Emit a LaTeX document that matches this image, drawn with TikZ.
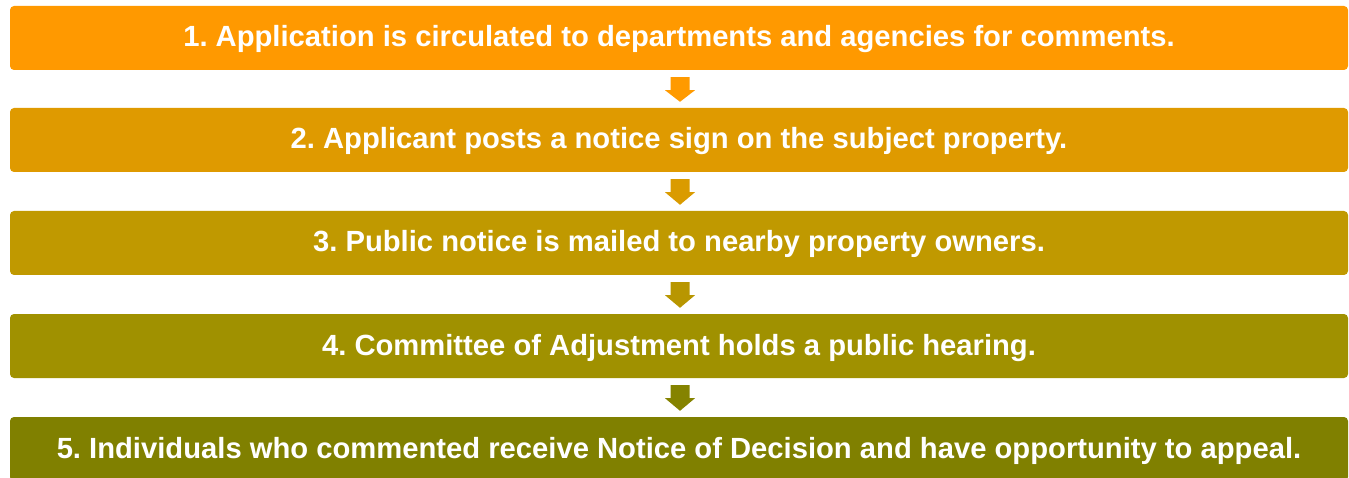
\documentclass[tikz,border=0pt]{standalone}
\usepackage{fontspec}
\setmainfont{Liberation Sans}
\usetikzlibrary{calc}
\frenchspacing
\definecolor{c1}{HTML}{FF9900}
\definecolor{c2}{HTML}{DF9A00}
\definecolor{c3}{HTML}{C09900}
\definecolor{c4}{HTML}{A09100}
\definecolor{c5}{HTML}{808000}
\definecolor{a1}{HTML}{FF9A00}
\definecolor{a2}{HTML}{DA9B00}
\definecolor{a3}{HTML}{B89600}
\definecolor{a4}{HTML}{858300}
\begin{document}
\begin{tikzpicture}[x=1pt,y=-1pt,
  stepbox/.style={rounded corners=4pt, minimum width=1338pt, minimum height=64pt,
    inner sep=0pt, text=white, text height=21pt, text depth=3pt,
    font=\fontsize{29.2}{34}\selectfont\bfseries},
  ]
\useasboundingbox (0,0) rectangle (1349,478);
\clip (0,0) rectangle (1349,478);
\node[stepbox, fill=c1] (b1) at (679,38) {1. Application is circulated to departments and agencies for comments.};
\node[stepbox, fill=c2] (b2) at (679,140) {2. Applicant posts a notice sign on the subject property.};
\node[stepbox, fill=c3] (b3) at (679,243) {3. Public notice is mailed to nearby property owners.};
\node[stepbox, fill=c4] (b4) at (679,346) {4. Committee of Adjustment holds a public hearing.};
\node[stepbox, fill=c5] (b5) at (679,449) {5. Individuals who commented receive Notice of Decision and have opportunity to appeal.};
\foreach \u/\l/\c in {b1/b2/a1, b2/b3/a2, b3/b4/a3, b4/b5/a4}{
  \fill[\c] ($(\u.south)+(-8.5,7)$) -- ($(\u.south)+(10.5,7)$) -- ($(\u.south)+(10.5,20)$)
    -- ($(\u.south)+(16,20)$) -- ($(\l.north)+(1,-6)$) -- ($(\u.south)+(-14,20)$)
    -- ($(\u.south)+(-8.5,20)$) -- cycle;
}
\end{tikzpicture}
\end{document}
